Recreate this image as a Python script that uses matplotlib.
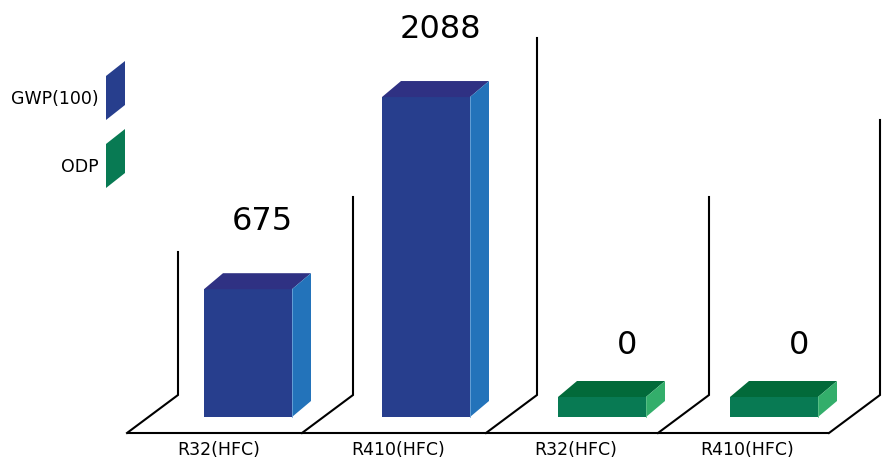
import numpy as np
import matplotlib
matplotlib.use('Agg')
import matplotlib.pyplot as plt
from matplotlib.patches import Polygon

categories = ['R32(HFC)', 'R410(HFC)', 'R32(HFC)', 'R410(HFC)']
values = [675, 2088, 0, 0]
series = ['GWP(100)', 'GWP(100)', 'ODP', 'ODP']
legend_names = ['GWP(100)', 'ODP']

# colours: (front, top, side)
colors = {'GWP(100)': ('#273E8D', '#2F3183', '#2373BA'),
          'ODP': ('#087A53', '#026A3A', '#33AE6B')}

# layout in pixel units of the 887x459 picture
floor_y = 433
depth_x, depth_y = 51, 38          # floor depth
panel_x = [127, 302, 486, 658, 829]
wall_tops = [252, 197, 38, 197, 120]
bar_w = 88
bar_off = 77
bar_base = 417
dx, dy = 19, 16                     # bar depth


def bar_h(v):
    # picture height of a bar, zero values still get a thin slab
    return 36 + 0.136 * v if v > 0 else 20


fig = plt.figure(figsize=(8.87, 4.59), dpi=100)
ax = fig.add_axes([0, 0, 1, 1])
ax.set_xlim(0, 887)
ax.set_ylim(459, 0)
ax.axis('off')

# floor and back walls
lw = 1.5
ax.plot([panel_x[0], panel_x[-1]], [floor_y, floor_y], color='black', lw=lw, solid_capstyle='butt')
for x0, top in zip(panel_x, wall_tops):
    ax.plot([x0, x0 + depth_x, x0 + depth_x], [floor_y, floor_y - depth_y, top],
            color='black', lw=lw, solid_joinstyle='miter')

# bars
for i, (cat, v, s) in enumerate(zip(categories, values, series)):
    front, top, side = colors[s]
    x0 = panel_x[i] + bar_off + (3 if i == 1 else 0) - (5 if i >= 2 else 0)
    x1 = x0 + bar_w
    yt = bar_base - bar_h(v)
    ax.add_patch(Polygon([(x0, bar_base), (x1, bar_base), (x1, yt), (x0, yt)],
                         closed=True, fc=front, ec='none'))
    ax.add_patch(Polygon([(x0, yt), (x1, yt), (x1 + dx, yt - dy), (x0 + dx, yt - dy)],
                         closed=True, fc=top, ec='none'))
    ax.add_patch(Polygon([(x1, bar_base), (x1 + dx, bar_base - dy), (x1 + dx, yt - dy), (x1, yt)],
                         closed=True, fc=side, ec='none'))
    ax.plot([x1, x1], [bar_base, yt], color='#6FA6DA' if s == 'GWP(100)' else '#5CC08A', lw=0.6)

    # value label
    gap = 36 if v else 20
    shift = 5 if v else 16
    ax.text((x0 + x1 + dx) / 2 + shift, yt - dy - gap, f'{v}', ha='center', va='bottom',
            fontsize=23, color='black')

    # category label
    cx = (panel_x[i] + panel_x[i + 1]) / 2 + 4
    ax.text(cx, 450, cat, ha='center', va='center', fontsize=12.5, color='black')

# legend swatches
leg_y = [76, 144]
for name, y in zip(legend_names, leg_y):
    front = colors[name][0]
    ax.add_patch(Polygon([(106, y), (125, y - 15), (125, y + 29), (106, y + 44)],
                         closed=True, fc=front, ec='none'))
    ax.text(99, y + 23, name, ha='right', va='center', fontsize=12.5, color='black')

fig.savefig('out.png', dpi=100)
